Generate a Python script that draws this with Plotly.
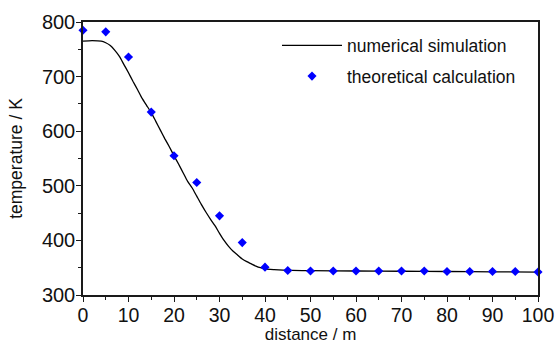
import plotly.graph_objects as go

# numerical simulation curve
sim_x = [0, 2, 4, 5, 6, 7, 8, 9, 10, 11, 12, 13, 14, 15, 16, 17, 18, 19, 20,
         21, 22, 23, 24, 25, 26, 27, 28, 29, 30, 31, 32, 33, 34, 35, 36, 37, 38,
         39, 40, 42, 44, 46, 50, 60, 70, 80, 90, 100]
sim_y = [765, 766, 765, 762, 757, 748, 737, 722, 707, 691, 676, 660, 647, 634,
         618, 602, 586, 571, 555, 540, 524, 508, 496, 481, 466, 452, 439, 427,
         413, 400, 389, 380, 373, 366, 361, 357, 353, 350, 348, 346.5, 345.5,
         345, 344.5, 344, 343.5, 343, 342.5, 342]

# theoretical calculation points
th_x = [0, 5, 10, 15, 20, 25, 30, 35, 40, 45, 50, 55, 60, 65, 70, 75, 80, 85,
        90, 95, 100]
th_y = [785, 782, 736, 635, 555, 506, 445, 396, 351, 345, 344, 344, 344, 344,
        344, 344, 343, 343, 343, 343, 342]

x_ticks = [0, 10, 20, 30, 40, 50, 60, 70, 80, 90, 100]
y_ticks = [300, 400, 500, 600, 700, 800]

FONT = "Liberation Sans, Arial, sans-serif"

fig = go.Figure()
fig.add_trace(go.Scatter(
    x=sim_x, y=sim_y, mode="lines", name="numerical simulation",
    line=dict(color="black", width=1.3, shape="spline", smoothing=0.6),
    legendgroup="a"))
fig.add_trace(go.Scatter(
    x=th_x, y=th_y, mode="markers", name="theoretical calculation",
    marker=dict(symbol="diamond", color="#0000FF", size=7),
    cliponaxis=False, legendgroup="b"))

axis_common = dict(
    showgrid=False, zeroline=False, showline=True, linecolor="#1a1a1a",
    linewidth=1.5, mirror=True, ticks="outside", ticklen=5, tickwidth=1.3,
    tickcolor="#1a1a1a", ticklabelstandoff=-3,
)
fig.update_xaxes(
    range=[0, 100], tickvals=x_ticks, automargin=False,
    tickfont=dict(family=FONT, size=19.5, color="#111"),
    minor=dict(dtick=5, ticks="outside", ticklen=3, tickcolor="#1a1a1a", tickwidth=1.2),
    title=dict(text="distance / m", font=dict(family=FONT, size=17, color="#111")),
    **axis_common)
fig.update_yaxes(
    range=[300, 800], tickvals=y_ticks, automargin=False,
    tickfont=dict(family=FONT, size=20, color="#111"),
    minor=dict(dtick=50, ticks="outside", ticklen=3, tickcolor="#1a1a1a", tickwidth=1.2),
    title=dict(text="temperature / K", font=dict(family=FONT, size=17.5, color="#111")),
    **axis_common)

fig.update_layout(
    width=555, height=344,
    margin=dict(l=83, r=17, t=22, b=49),
    plot_bgcolor="white", paper_bgcolor="white",
    showlegend=True,
    legend=dict(x=(277 - 83) / 455, y=0.98, xanchor="left", yanchor="top",
                font=dict(family=FONT, size=17.5, color="#111"),
                bgcolor="rgba(0,0,0,0)", tracegroupgap=5, itemwidth=60),
)

fig.write_html("out.html")
